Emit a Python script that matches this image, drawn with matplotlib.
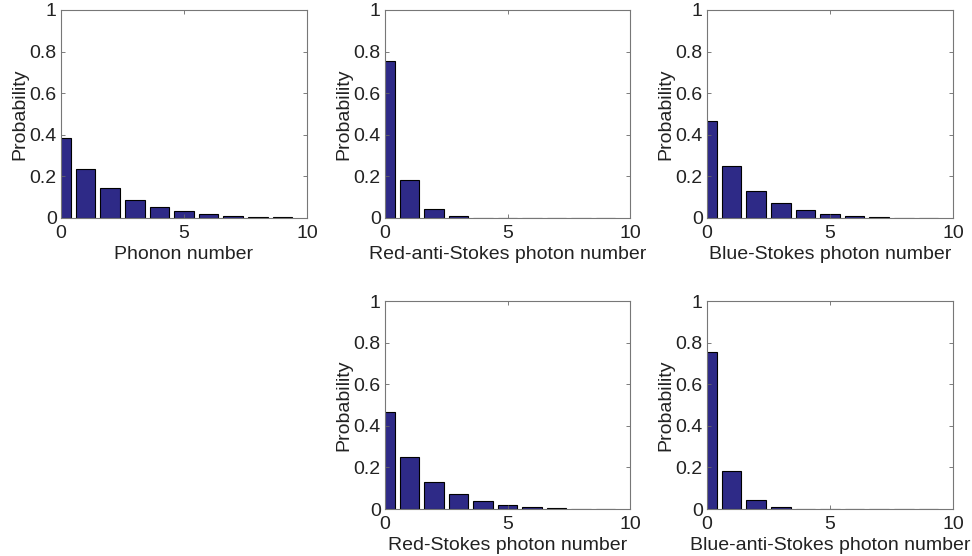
import numpy as np
import matplotlib
matplotlib.use("Agg")
from matplotlib import pyplot as plt

plt.rcParams['font.family'] = ['Liberation Sans', 'DejaVu Sans']

n = np.arange(10)

# occupation probabilities for each mode
phonon = [0.384, 0.235, 0.144, 0.088, 0.053, 0.035, 0.021, 0.011, 0.006, 0.003]
red_anti_stokes = [0.755, 0.184, 0.043, 0.010, 0.002, 0.0005, 0.0001, 0.0, 0.0, 0.0]
blue_stokes = [0.467, 0.248, 0.131, 0.070, 0.037, 0.019, 0.010, 0.005, 0.002, 0.001]
red_stokes = [0.467, 0.248, 0.131, 0.070, 0.037, 0.019, 0.010, 0.005, 0.002, 0.001]
blue_anti_stokes = [0.755, 0.184, 0.043, 0.010, 0.002, 0.0005, 0.0001, 0.0, 0.0, 0.0]

labels = ['Phonon number', 'Red-anti-Stokes photon number',
          'Blue-Stokes photon number', 'Red-Stokes photon number',
          'Blue-anti-Stokes photon number']
series = [phonon, red_anti_stokes, blue_stokes, red_stokes, blue_anti_stokes]

W, H = 972, 556
# axes boxes in pixels: left, top, right, bottom
boxes = [(61, 10, 307, 218), (385, 10, 630, 218), (707, 10, 953, 218),
         (385, 301, 630, 509), (707, 301, 953, 509)]

fig = plt.figure(figsize=(W / 100, H / 100), dpi=100)

for box, vals, lab in zip(boxes, series, labels):
    l, t, r, b = box
    ax = fig.add_axes([l / W, (H - b) / H, (r - l) / W, (b - t) / H])
    ax.bar(n, vals, width=0.8, color='#2e2a87', edgecolor='black', linewidth=0.8)
    ax.set_xlim(0, 10)
    ax.set_ylim(0, 1)
    ax.set_xticks([0, 5, 10])
    ax.set_yticks([0, 0.2, 0.4, 0.6, 0.8, 1])
    ax.set_yticklabels(['0', '0.2', '0.4', '0.6', '0.8', '1'])
    ax.tick_params(direction='in', top=True, right=True, length=3,
                   width=0.6, color='#666666', labelsize=14, labelcolor='#222222', pad=3)
    ax.tick_params(axis='x', pad=5)
    for s in ax.spines.values():
        s.set_color('#777777')
        s.set_linewidth(0.8)
    ax.set_xlabel(lab, fontsize=14, color='#222222', labelpad=3)
    ax.set_ylabel('Probability', fontsize=14, color='#222222', labelpad=1)

fig.savefig('out.png', dpi=100)
